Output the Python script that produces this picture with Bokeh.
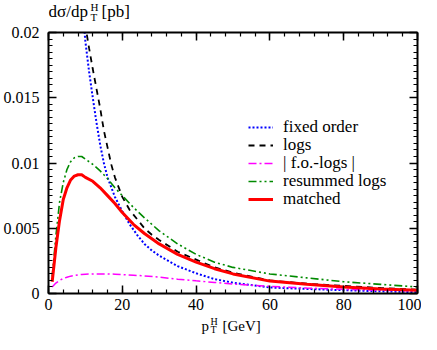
from bokeh.plotting import figure
from bokeh.layouts import column
from bokeh.models import (Range1d, LinearAxis, SingleIntervalTicker, CustomJSTickFormatter,
                          Label, Legend, LegendItem)
from bokeh.embed import file_html
from bokeh.resources import INLINE

# ---------------- data ----------------
fo_pt = [9.0, 10, 11, 12, 13, 14, 15, 16, 18, 20, 22, 24, 26, 28, 30, 35, 40, 45, 50, 60, 70, 80, 90, 100]
fo_val = [0.0225, 0.0193, 0.0170, 0.0150, 0.0131, 0.0114, 0.0100, 0.0089, 0.0074, 0.0063, 0.0053,
          0.0045, 0.0038, 0.0033, 0.0029, 0.0021, 0.00155, 0.0011, 0.00083, 0.00046, 0.00035,
          0.00025, 0.00017, 0.0001]

logs_pt = [9.5, 10, 11, 12, 13, 14, 15, 16, 17, 18, 20, 22, 24, 26, 28, 30, 35, 40, 45, 50, 60, 70, 80, 90, 100]
logs_val = [0.0215, 0.0205, 0.0188, 0.0172, 0.0157, 0.0142, 0.0125, 0.0112, 0.0099, 0.0089, 0.0074,
            0.0064, 0.0057, 0.0050, 0.0045, 0.0041, 0.0032, 0.0026, 0.0020, 0.0016, 0.00100,
            0.00075, 0.00058, 0.00042, 0.0003]

pt = [1, 2, 3, 4, 5, 6, 7, 8, 9, 10, 12, 14, 16, 18, 20, 23, 26, 30, 35, 40, 45, 50, 60, 70, 80, 90, 100]
diff_val = [0.0005, 0.0008, 0.0010, 0.00115, 0.00125, 0.00133, 0.00138, 0.00143, 0.00146, 0.00148,
            0.0015, 0.0015, 0.0015, 0.00148, 0.00145, 0.0014, 0.00135, 0.00125, 0.0011, 0.00097,
            0.00085, 0.00072, 0.00055, 0.00042, 0.00032, 0.00025, 0.0002]
resum_val = [0.0013, 0.0044, 0.0070, 0.0085, 0.0095, 0.0101, 0.0104, 0.0105, 0.0105, 0.0103,
             0.0099, 0.0094, 0.0088, 0.0081, 0.0075, 0.0066, 0.0058, 0.0048, 0.0038, 0.0030,
             0.0024, 0.0020, 0.0015, 0.0012, 0.0009, 0.0007, 0.0005]
matched_val = [0.0009, 0.0035, 0.0056, 0.0072, 0.0081, 0.0087, 0.0090, 0.0091, 0.0091, 0.0089,
               0.0086, 0.0081, 0.0075, 0.0069, 0.0062, 0.0053, 0.0046, 0.0038, 0.0030, 0.0024,
               0.0019, 0.0015, 0.00095, 0.0007, 0.0005, 0.00035, 0.00025]

legend_labels = ["fixed order", "logs", "| f.o.-logs |", "resummed logs", "matched"]
x_tick_step = 20
y_tick_step = 0.005

FONT = "Liberation Serif"
W = 421
BORDER_L, BORDER_R = 45, 4


def text_strip(height):
    # same left/right borders as the main plot, so the frames line up
    f = figure(width=W, height=height, output_backend="svg", toolbar_location=None,
               x_range=Range1d(0, 1), y_range=Range1d(0, 1),
               x_axis_type=None, y_axis_type=None,
               min_border_left=BORDER_L, min_border_right=BORDER_R,
               min_border_top=0, min_border_bottom=0)
    f.title.visible = False
    f.grid.visible = False
    f.outline_line_color = None
    f.background_fill_color = "white"
    f.border_fill_color = "white"
    return f


def lab(fig, text, x, y, size):
    fig.add_layout(Label(x=x, y=y, x_units="screen", y_units="screen", text=text,
                         text_font=FONT, text_font_size=size, text_color="black",
                         text_baseline="middle", text_align="left"))


# ---- title strip (y-axis quantity), page y 8..30 ----
top = text_strip(22)
lab(top, "d\u03c3/dp", 0, 11, "17px")
lab(top, "H", 42, 16, "11px")
lab(top, "T", 42, 6, "11px")
lab(top, "[pb]", 53, 11, "17px")

# ---- main plot, page y 30..324 ----
p = figure(width=W, height=294, output_backend="svg", toolbar_location=None,
           x_range=Range1d(0, 100), y_range=Range1d(0, 0.02),
           x_axis_type=None, y_axis_type=None,
           min_border_left=BORDER_L, min_border_right=BORDER_R, min_border_top=10, min_border_bottom=23)
p.title.visible = False
p.grid.visible = False
p.outline_line_color = None
p.background_fill_color = "white"
p.border_fill_color = "white"

fmt = CustomJSTickFormatter(code="return tick.toFixed(3).replace(/0+$/,'').replace(/\\.$/,'');")
empty_fmt = CustomJSTickFormatter(code="return '';")


def style_axis(ax, labels=True, standoff=9):
    ax.axis_line_width = 2
    ax.axis_line_color = "black"
    ax.major_tick_in = 8
    ax.major_tick_out = 0
    ax.minor_tick_in = 4
    ax.minor_tick_out = 0
    ax.major_tick_line_width = 1.5
    ax.minor_tick_line_width = 1.2
    ax.major_tick_line_color = "black"
    ax.minor_tick_line_color = "black"
    if labels:
        ax.major_label_text_font = FONT
        ax.major_label_text_font_size = "16px"
        ax.major_label_text_color = "black"
        ax.major_label_standoff = standoff
    else:
        ax.major_label_text_font_size = "0px"
        ax.major_label_standoff = 0


xb = LinearAxis(ticker=SingleIntervalTicker(interval=x_tick_step, num_minor_ticks=5), formatter=fmt)
style_axis(xb, True, 5)
p.add_layout(xb, "below")
xa = LinearAxis(ticker=SingleIntervalTicker(interval=x_tick_step, num_minor_ticks=5), formatter=empty_fmt)
style_axis(xa, False)
p.add_layout(xa, "above")
yl = LinearAxis(ticker=SingleIntervalTicker(interval=y_tick_step, num_minor_ticks=10), formatter=fmt)
style_axis(yl, True, 9)
p.add_layout(yl, "left")
yr = LinearAxis(ticker=SingleIntervalTicker(interval=y_tick_step, num_minor_ticks=10), formatter=empty_fmt)
style_axis(yr, False)
p.add_layout(yr, "right")

r_fo = p.line(fo_pt, fo_val, line_color="#0000ff", line_width=2, line_dash="2 2")
r_logs = p.line(logs_pt, logs_val, line_color="black", line_width=1.8, line_dash="6 5")
r_diff = p.line(pt, diff_val, line_color="#ff00ff", line_width=1.5, line_dash="8 3 2 3")
r_res = p.line(pt, resum_val, line_color="#008a00", line_width=1.6, line_dash="8 3 2 3 2 3")
r_match = p.line(pt, matched_val, line_color="#ff0000", line_width=3)

# one single-entry legend per row, so the row pitch matches the reference
ITEM_H = 22
LEG_X, LEG_TOP_CENTER, LEG_PITCH = 200, 166, 18.1
for i, (l, r) in enumerate(zip(legend_labels, [r_fo, r_logs, r_diff, r_res, r_match])):
    lg = Legend(items=[LegendItem(label=l, renderers=[r])],
                location=(LEG_X, LEG_TOP_CENTER - i * LEG_PITCH - ITEM_H / 2))
    lg.background_fill_alpha = 0
    lg.border_line_color = None
    lg.padding = 0
    lg.margin = 0
    lg.spacing = 0
    lg.glyph_width = 25
    lg.glyph_height = ITEM_H
    lg.label_height = ITEM_H
    lg.label_standoff = 10
    lg.label_text_font = FONT
    lg.label_text_font_size = "17px"
    lg.label_text_color = "black"
    p.add_layout(lg, "center")

# ---- x-axis title strip, page y 324..342 ----
bot = text_strip(18)
lab(bot, "p", 153, 9, "15px")
lab(bot, "H", 162, 13.5, "10px")
lab(bot, "T", 162, 5.5, "10px")
lab(bot, "[GeV]", 174, 9, "15px")

layout = column(top, p, bot, spacing=0)
open("out.html", "w").write(file_html(layout, INLINE))
